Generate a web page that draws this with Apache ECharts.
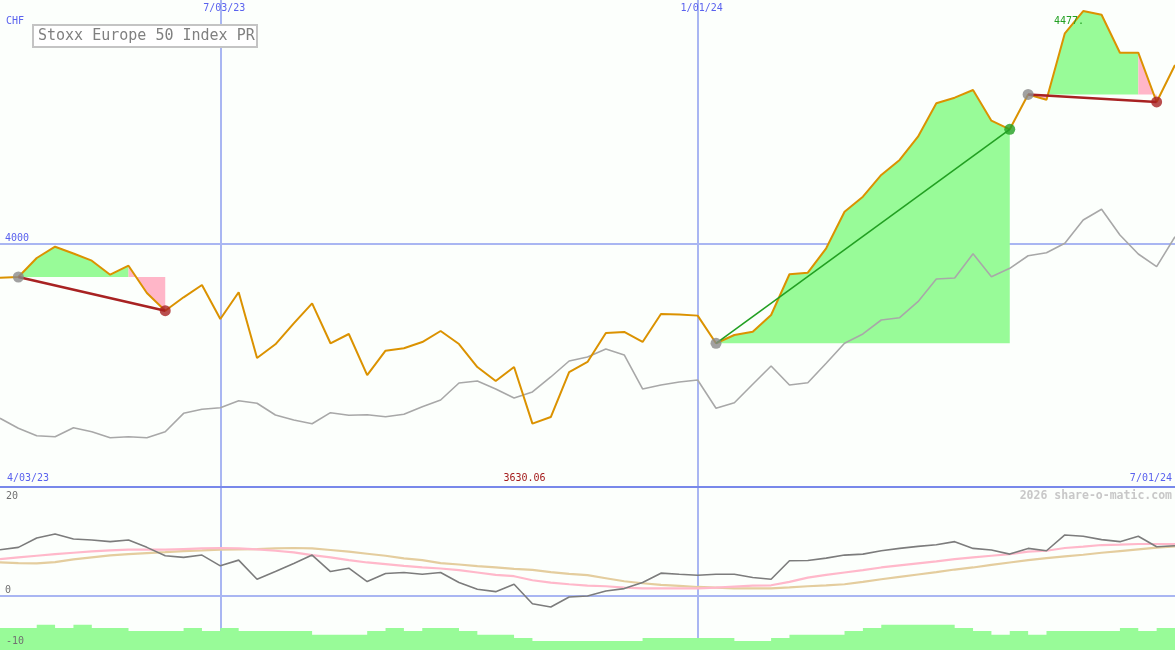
<!DOCTYPE html>
<html>
<head>
<meta charset="utf-8">
<style>
html,body{margin:0;padding:0;background:#fcfffc;}
#chart{width:1175px;height:650px;}
</style>
<script src="https://cdn.jsdelivr.net/npm/echarts@6/dist/echarts.min.js"></script>
</head>
<body>
<div id="chart"></div>
<script>
// ---------- data ----------
const categories = [
 '4/10/23','4/17/23','4/24/23','5/01/23','5/08/23','5/15/23','5/22/23','5/29/23','6/05/23','6/12/23',
 '6/19/23','6/26/23','7/03/23','7/10/23','7/17/23','7/24/23','7/31/23','8/07/23','8/14/23','8/21/23',
 '8/28/23','9/04/23','9/11/23','9/18/23','9/25/23','10/02/23','10/09/23','10/16/23','10/23/23','10/30/23',
 '11/06/23','11/13/23','11/20/23','11/27/23','12/04/23','12/11/23','12/18/23','12/25/23','1/01/24','1/08/24',
 '1/15/24','1/22/24','1/29/24','2/05/24','2/12/24','2/19/24','2/26/24','3/04/24','3/11/24','3/18/24',
 '3/25/24','4/01/24','4/08/24','4/15/24','4/22/24','4/29/24','5/06/24','5/13/24','5/20/24','5/27/24',
 '6/03/24','6/10/24','6/17/24','6/24/24','7/01/24'
];
const priceValues = [
 3929.8, 3931.2, 3970.2, 3993.4, 3979.5, 3964.7, 3935.9, 3954.4, 3898.4, 3862.0,
 3889.5, 3914.8, 3845.0, 3899.8, 3764.9, 3793.0, 3836.1, 3877.2, 3795.1, 3814.2,
 3729.9, 3779.9, 3784.8, 3797.7, 3820.3, 3793.6, 3746.4, 3717.7, 3746.4, 3630.06,
 3643.7, 3736.1, 3756.7, 3816.3, 3818.3, 3797.8, 3855.2, 3854.2, 3851.9, 3795.1,
 3812.1, 3818.9, 3853.2, 3936.8, 3940.0, 3990.1, 4065.3, 4096.1, 4140.7, 4171.5,
 4219.3, 4287.9, 4299.4, 4315.2, 4252.2, 4234.5, 4306.0, 4295.3, 4431.6, 4477.2,
 4469.8, 4391.8, 4391.8, 4290.6, 4366.5
];
const compareValues = [
 3641.1, 3620.5, 3605.3, 3603.3, 3621.8, 3613.5, 3601.2, 3603.3, 3601.2, 3613.5,
 3651.3, 3659.5, 3662.8, 3677.2, 3671.9, 3647.8, 3637.6, 3630.0, 3652.6, 3647.2,
 3648.5, 3644.4, 3649.3, 3664.9, 3678.6, 3713.6, 3717.7, 3701.3, 3682.8, 3695.1,
 3725.9, 3758.7, 3767.0, 3783.4, 3771.1, 3701.3, 3709.4, 3715.6, 3719.7, 3661.6,
 3673.1, 3710.9, 3748.4, 3709.4, 3714.2, 3754.0, 3795.1, 3814.2, 3842.9, 3847.6,
 3880.5, 3927.1, 3929.2, 3979.1, 3931.8, 3949.1, 3974.9, 3981.1, 4000.4, 4048.3,
 4070.2, 4017.5, 3978.4, 3952.4, 4014.0
];
const oscValues = [
 8.46, 8.89, 10.62, 11.36, 10.43, 10.25, 9.94, 10.25, 8.89, 7.35,
 7.04, 7.47, 5.49, 6.54, 3.02, 4.44, 5.93, 7.47, 4.44, 5.06,
 2.59, 4.07, 4.26, 3.95, 4.26, 2.41, 1.17, 0.74, 2.10, -1.48,
 -2.10, -0.25, -0.06, 0.86, 1.30, 2.41, 4.14, 3.95, 3.77, 3.95,
 3.95, 3.33, 3.02, 6.42, 6.48, 6.91, 7.47, 7.65, 8.27, 8.70,
 9.07, 9.38, 9.94, 8.70, 8.40, 7.65, 8.70, 8.27, 11.17, 10.93,
 10.31, 9.94, 10.93, 9.01, 9.20
];
const fastAvgValues = [
 6.73, 7.04, 7.35, 7.65, 7.90, 8.15, 8.33, 8.46, 8.46, 8.46,
 8.58, 8.70, 8.77, 8.70, 8.52, 8.27, 7.96, 7.47, 7.04, 6.54,
 6.11, 5.80, 5.49, 5.19, 5.00, 4.69, 4.26, 3.83, 3.58, 2.84,
 2.41, 2.10, 1.85, 1.73, 1.48, 1.36, 1.36, 1.36, 1.36, 1.48,
 1.67, 1.85, 1.91, 2.53, 3.33, 3.83, 4.26, 4.69, 5.19, 5.56,
 5.93, 6.30, 6.73, 7.04, 7.35, 7.65, 8.09, 8.27, 8.77, 9.01,
 9.32, 9.38, 9.51, 9.51, 9.51
];
const slowAvgValues = [
 6.11, 5.99, 5.93, 6.17, 6.67, 7.04, 7.41, 7.65, 7.84, 8.02,
 8.21, 8.33, 8.46, 8.52, 8.58, 8.70, 8.77, 8.70, 8.40, 8.09,
 7.72, 7.35, 6.85, 6.54, 5.99, 5.74, 5.43, 5.19, 4.94, 4.75,
 4.32, 4.01, 3.77, 3.21, 2.65, 2.28, 1.98, 1.79, 1.60, 1.48,
 1.36, 1.36, 1.36, 1.54, 1.73, 1.91, 2.10, 2.53, 3.02, 3.46,
 3.89, 4.32, 4.81, 5.19, 5.68, 6.11, 6.54, 6.91, 7.22, 7.53,
 7.90, 8.21, 8.52, 8.83, 9.07
];
const volumeValues = [
 8.1, 8.1, 9.3, 8.1, 9.3, 8.1, 8.1, 7.0, 7.0, 7.0,
 8.1, 7.0, 8.1, 7.0, 7.0, 7.0, 7.0, 5.6, 5.6, 5.6,
 7.0, 8.1, 7.0, 8.1, 8.1, 7.0, 5.6, 5.6, 4.4, 3.3,
 3.3, 3.3, 3.3, 3.3, 3.3, 4.4, 4.4, 4.4, 4.4, 4.4,
 3.3, 3.3, 4.4, 5.6, 5.6, 5.6, 7.0, 8.1, 9.3, 9.3,
 9.3, 9.3, 8.1, 7.0, 5.6, 7.0, 5.6, 7.0, 7.0, 7.0,
 7.0, 8.1, 7.0, 8.1, 8.1
];
const tradeStarts = [1, 39, 56];
const tradeEnds = [9, 55, 63];
const gridDates = ['7/03/23', '1/01/24'];
const priceLabelTicks = [4000];
const lowerLabelTicks = [0];

// ---------- styles ----------
const MONO = '"DejaVu Sans Mono", "Liberation Mono", monospace';
const BLUE_TXT = '#5a62ee';
const GRID_LINE = '#a9b6f2';
const GREEN_FILL = '#98fb98';
const PINK_FILL = '#ffb6c8';
const LOSS = '#a82222';
const GAIN = '#22a022';

const chart = echarts.init(document.getElementById('chart'), null, {renderer: 'canvas'});

const fillSeries = {
  type: 'custom', xAxisIndex: 0, yAxisIndex: 0, z: 1, silent: true,
  encode: {x: [0, 1]},
  data: tradeStarts.map((s, k) => [s, tradeEnds[k]]),
  renderItem: function (params, api) {
    const s = api.value(0), e = api.value(1);
    const base = priceValues[s];
    const colorOf = i => (priceValues[i + 1] >= base ? GREEN_FILL : PINK_FILL);
    const children = [];
    let runStart = s;
    for (let i = s; i < e; i++) {
      if (i === e - 1 || colorOf(i + 1) !== colorOf(i)) {
        const pts = [api.coord([runStart, base])];
        for (let j = runStart; j <= i + 1; j++) pts.push(api.coord([j, priceValues[j]]));
        pts.push(api.coord([i + 1, base]));
        children.push({type: 'polygon', shape: {points: pts}, style: {fill: colorOf(i), stroke: null}});
        runStart = i + 1;
      }
    }
    return {type: 'group', children: children};
  }
};

const tradeLineSeries = {
  type: 'custom', xAxisIndex: 0, yAxisIndex: 0, z: 4, silent: true,
  encode: {x: [0, 1]},
  data: tradeStarts.map((s, k) => [s, tradeEnds[k]]),
  renderItem: function (params, api) {
    const s = api.value(0), e = api.value(1);
    const p1 = api.coord([s, priceValues[s]]);
    const p2 = api.coord([e, priceValues[e]]);
    const gain = priceValues[e] >= priceValues[s];
    return {type: 'line', shape: {x1: p1[0], y1: p1[1], x2: p2[0], y2: p2[1]},
      style: {stroke: gain ? GAIN : LOSS, lineWidth: gain ? 1.6 : 2.6}};
  }
};

const dotData = [];
tradeStarts.forEach((s, k) => {
  const e = tradeEnds[k];
  dotData.push({value: [s, priceValues[s]], itemStyle: {color: '#8a8a8a'}});
  dotData.push({value: [e, priceValues[e]], itemStyle: {color: priceValues[e] >= priceValues[s] ? GAIN : LOSS}});
});

const option = {
  backgroundColor: '#fcfffc',
  animation: false,
  grid: [
    {left: 0, right: 0, top: 0, height: 487, outerBoundsMode: 'none', containLabel: false},
    {left: 0, right: 0, top: 487, height: 163, outerBoundsMode: 'none', containLabel: false}
  ],
  xAxis: [
    {
      gridIndex: 0, type: 'category', data: categories, boundaryGap: false, position: 'top',
      axisLine: {show: false, onZero: false}, axisTick: {show: false},
      axisLabel: {
        show: true, inside: true, margin: 3, fontSize: 10, fontFamily: MONO, color: BLUE_TXT,
        padding: [0, 0, 0, 8],
        interval: (idx, val) => gridDates.includes(val)
      },
      splitLine: {show: true, interval: (idx, val) => gridDates.includes(val), lineStyle: {color: GRID_LINE, width: 2}}
    },
    {
      gridIndex: 1, type: 'category', data: categories, boundaryGap: false, position: 'top',
      axisLine: {show: true, onZero: false, lineStyle: {color: '#7888ea', width: 2}}, axisTick: {show: false},
      axisLabel: {show: false},
      splitLine: {show: true, interval: (idx, val) => gridDates.includes(val), lineStyle: {color: GRID_LINE, width: 2}}
    }
  ],
  yAxis: [
    {
      gridIndex: 0, type: 'value', min: 3500, max: 4500, interval: 500,
      axisLine: {show: false}, axisTick: {show: false},
      axisLabel: {show: true, inside: true, margin: 5, fontSize: 10, fontFamily: MONO, color: BLUE_TXT,
        verticalAlign: 'bottom',
        formatter: v => (priceLabelTicks.includes(v) ? String(v) : '')},
      splitLine: {show: true, lineStyle: {color: ['rgba(0,0,0,0)', GRID_LINE, 'rgba(0,0,0,0)'], width: 2}}
    },
    {
      gridIndex: 1, type: 'value', min: -10, max: 20, interval: 10,
      axisLine: {show: false}, axisTick: {show: false},
      axisLabel: {show: true, inside: true, margin: 5, fontSize: 10, fontFamily: MONO, color: '#707070',
        verticalAlign: 'bottom',
        formatter: v => (lowerLabelTicks.includes(v) ? String(v) : '')},
      splitLine: {show: true, lineStyle: {color: ['rgba(0,0,0,0)', GRID_LINE, 'rgba(0,0,0,0)', 'rgba(0,0,0,0)'], width: 2}}
    },
    {gridIndex: 1, type: 'value', min: 0, max: 60, show: false, splitLine: {show: false}}
  ],
  series: [
    fillSeries,
    {type: 'line', name: 'compare', xAxisIndex: 0, yAxisIndex: 0, z: 2, data: compareValues, symbol: 'none',
      lineStyle: {color: '#a8a8a8', width: 1.6}, silent: true},
    {type: 'line', name: 'price', xAxisIndex: 0, yAxisIndex: 0, z: 3, data: priceValues, symbol: 'none',
      lineStyle: {color: '#db9200', width: 2}, silent: true},
    tradeLineSeries,
    {type: 'scatter', xAxisIndex: 0, yAxisIndex: 0, z: 5, data: dotData, symbolSize: 11, silent: true},
    {type: 'line', name: 'volume', xAxisIndex: 1, yAxisIndex: 2, z: 1, data: volumeValues, step: 'end', symbol: 'none',
      lineStyle: {width: 0}, areaStyle: {color: GREEN_FILL, opacity: 1}, silent: true},
    {type: 'line', name: 'slow', xAxisIndex: 1, yAxisIndex: 1, z: 2, data: slowAvgValues, symbol: 'none',
      lineStyle: {color: '#e4cd9e', width: 2.2}, silent: true},
    {type: 'line', name: 'fast', xAxisIndex: 1, yAxisIndex: 1, z: 2, data: fastAvgValues, symbol: 'none',
      lineStyle: {color: '#ffb8ca', width: 2.2}, silent: true},
    {type: 'line', name: 'osc', xAxisIndex: 1, yAxisIndex: 1, z: 3, data: oscValues, symbol: 'none',
      lineStyle: {color: '#7c7c7c', width: 1.6}, silent: true}
  ],
  graphic: [
    {type: 'rect', z: 100, shape: {x: 33, y: 25, width: 224, height: 22},
      style: {fill: '#ffffff', stroke: '#c4c4c4', lineWidth: 2}},
    {type: 'text', z: 101, x: 38, y: 36.5,
      style: {text: 'Stoxx Europe 50 Index PR', font: '15px ' + MONO, fill: '#808080', verticalAlign: 'middle', align: 'left'}},
    {type: 'text', z: 101, x: 6, y: 21,
      style: {text: 'CHF', font: '10px ' + MONO, fill: BLUE_TXT, verticalAlign: 'middle'}},
    {type: 'text', z: 101, x: 7, y: 478.5,
      style: {text: '4/03/23', font: '10px ' + MONO, fill: BLUE_TXT, verticalAlign: 'middle'}},
    {type: 'text', z: 101, x: 524.5, y: 478.5,
      style: {text: '3630.06', font: '10px ' + MONO, fill: '#a41c1c', verticalAlign: 'middle', align: 'center'}},
    {type: 'text', z: 101, x: 1172, y: 478.5,
      style: {text: '7/01/24', font: '10px ' + MONO, fill: BLUE_TXT, verticalAlign: 'middle', align: 'right'}},
    {type: 'text', z: 101, x: 1172, y: 496.5,
      style: {text: '2026 share-o-matic.com', font: 'bold 11.5px ' + MONO, fill: '#c8c8c8', verticalAlign: 'middle', align: 'right'}},
    {type: 'text', z: 101, x: 6, y: 496,
      style: {text: '20', font: '10px ' + MONO, fill: '#707070', verticalAlign: 'middle'}},
    {type: 'text', z: 101, x: 6, y: 641,
      style: {text: '-10', font: '10px ' + MONO, fill: '#707070', verticalAlign: 'middle'}},
    {type: 'text', z: 101, x: 1054, y: 21,
      style: {text: '4477.', font: '10px ' + MONO, fill: GAIN, verticalAlign: 'middle'}}
  ]
};
chart.setOption(option);
</script>
</body>
</html>
